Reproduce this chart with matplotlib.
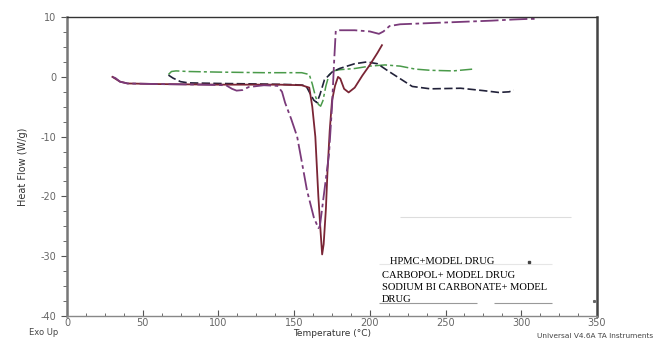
import numpy as np
import matplotlib
matplotlib.use('Agg')
import matplotlib.pyplot as plt
from matplotlib.ticker import MultipleLocator, FixedLocator, FixedFormatter

# HPMC + model drug (purple dash-dot)
t_hpmc = [30, 32, 35, 40, 60, 90, 105, 109, 112, 116, 120, 130, 139, 142, 144, 148,
          152, 156, 158.5, 160.5, 163, 166, 167, 169, 171, 173, 175, 176.5, 177.5,
          180, 190, 200, 203, 206, 209, 213, 220, 240, 260, 280, 295, 305, 310]
v_hpmc = [0, -0.2, -0.8, -1.1, -1.2, -1.3, -1.4, -2.0, -2.3, -2.2, -1.7, -1.4, -1.5,
          -2.5, -4.3, -7, -10, -15.5, -19, -21, -23.5, -25.3, -25, -21, -17, -13, -5,
          3, 7.7, 7.8, 7.8, 7.6, 7.4, 7.2, 7.6, 8.5, 8.8, 9.0, 9.2, 9.4, 9.6, 9.7, 9.7]

# carbopol + model drug (maroon solid)
t_carb = [30, 35, 40, 60, 100, 140, 155, 160, 162, 164, 165, 166, 167.5, 168.5, 169.5,
          171, 172, 173.5, 175, 177, 179, 180.5, 183, 186, 190, 195, 200, 205, 208]
v_carb = [0, -0.8, -1.1, -1.2, -1.3, -1.3, -1.4, -1.8, -5, -10, -15, -20, -26, -29.7,
          -28, -22, -16, -9, -4, -1.5, 0, -0.3, -2, -2.6, -1.8, 0.2, 2, 4, 5.3]

# sodium bicarbonate + model drug (dark dashed)
t_sbc = [67, 70, 75, 80, 100, 130, 150, 156, 158.5, 161, 163, 165, 167, 170, 175, 180,
         190, 198, 205, 212, 220, 228, 240, 260, 275, 285, 292, 295]
v_sbc = [0.3, -0.2, -0.8, -1.0, -1.1, -1.2, -1.3, -1.4, -1.8, -3.0, -3.9, -4.3, -3,
         -0.5, 0.8, 1.4, 2.2, 2.5, 2.2, 1.0, -0.3, -1.6, -2.0, -1.9, -2.3, -2.6, -2.5,
         -2.2]

# model drug (green dash-dot)
t_drug = [67, 69, 72, 80, 100, 130, 155, 160, 162, 164, 166, 167.5, 169, 171, 173,
          176, 180, 190, 200, 210, 220, 230, 240, 255, 268]
v_drug = [0.4, 0.9, 1.0, 0.9, 0.8, 0.7, 0.7, 0.4, -1.2, -3.2, -4.6, -4.9, -4.0, -1.5,
          0.3, 1.0, 1.2, 1.4, 1.8, 2.0, 1.8, 1.3, 1.1, 1.0, 1.3]

yticks = [10, 0, -10, -20, -30, -40]
ytick_labels = ['10', '0', '-10', '-20', '-30', '-40']
legend_lines = ['HPMC+MODEL DRUG', 'CARBOPOL+ MODEL DRUG',
                'SODIUM BI CARBONATE+ MODEL', 'DRUG']

fig = plt.figure(figsize=(6.53, 3.42), dpi=100)
ax = fig.add_axes([0.1026, 0.076, 0.8116, 0.874])

ax.plot(t_drug, v_drug, color='#4a9a4a', lw=1.1, ls=(0, (8, 2, 2, 2)))
ax.plot(t_sbc, v_sbc, color='#22223a', lw=1.2, ls=(0, (5, 2)))
ax.plot(t_carb, v_carb, color='#7a2535', lw=1.3)
ax.plot(t_hpmc, v_hpmc, color='#7a3a7a', lw=1.3, ls=(0, (10, 2, 2, 2)))

ax.set_xlim(0, 350)
ax.set_ylim(-40, 10)
ax.xaxis.set_major_locator(MultipleLocator(50))
ax.xaxis.set_minor_locator(MultipleLocator(12.5))
ax.yaxis.set_major_locator(FixedLocator(yticks))
ax.yaxis.set_major_formatter(FixedFormatter(ytick_labels))
ax.yaxis.set_minor_locator(MultipleLocator(2.5))

ax.tick_params(axis='x', which='both', direction='in', colors='#555555',
               labelsize=7, labelcolor='#666666', pad=1.5)
ax.tick_params(axis='x', which='major', length=4)
ax.tick_params(axis='x', which='minor', length=2.5)
ax.tick_params(axis='y', which='both', direction='out', colors='#555555',
               labelsize=7, labelcolor='#666666')
ax.tick_params(axis='y', which='major', length=4)
ax.tick_params(axis='y', which='minor', length=3)

ax.spines['left'].set_color('#777777')
ax.spines['left'].set_linewidth(1.8)
ax.spines['bottom'].set_color('#888888')
ax.spines['bottom'].set_linewidth(1.0)
ax.spines['top'].set_color('#333333')
ax.spines['top'].set_linewidth(1.0)
ax.spines['right'].set_color('#444444')
ax.spines['right'].set_linewidth(1.8)

ax.set_ylabel('Heat Flow (W/g)', fontsize=7, color='#333333', labelpad=9)
ax.set_xlabel('Temperature (°C)', fontsize=6.5, color='#333333', labelpad=0.5)

fig.text(0.045, 0.02, 'Exo Up', fontsize=6, color='#444444')
fig.text(0.823, 0.0175, 'Universal V4.6A TA Instruments', fontsize=5.3,
         color='#444444', va='center')

# legend block drawn as text with faint rule lines
ax.hlines(-23.5, 220, 333, color='#dddddd', lw=0.8)
ax.hlines(-31.3, 206, 320, color='#e6e6e6', lw=0.8)
ax.hlines([-37.8, -37.8], [206, 282], [271, 320], color='#999999', lw=0.8)
ax.plot([305], [-31.0], marker='s', ms=1.5, color='#444444')
ax.plot([348], [-37.5], marker='s', ms=1.2, color='#666666')

serif = ['Liberation Serif', 'DejaVu Serif']
ax.text(213, -30.8, legend_lines[0], fontsize=7.6, family=serif, va='center')
ax.text(208, -33.2, legend_lines[1], fontsize=7.6, family=serif, va='center')
ax.text(208, -35.2, legend_lines[2], fontsize=7.6, family=serif, va='center')
ax.text(208, -37.2, legend_lines[3], fontsize=7.6, family=serif, va='center')

fig.savefig('out.png', dpi=100)
